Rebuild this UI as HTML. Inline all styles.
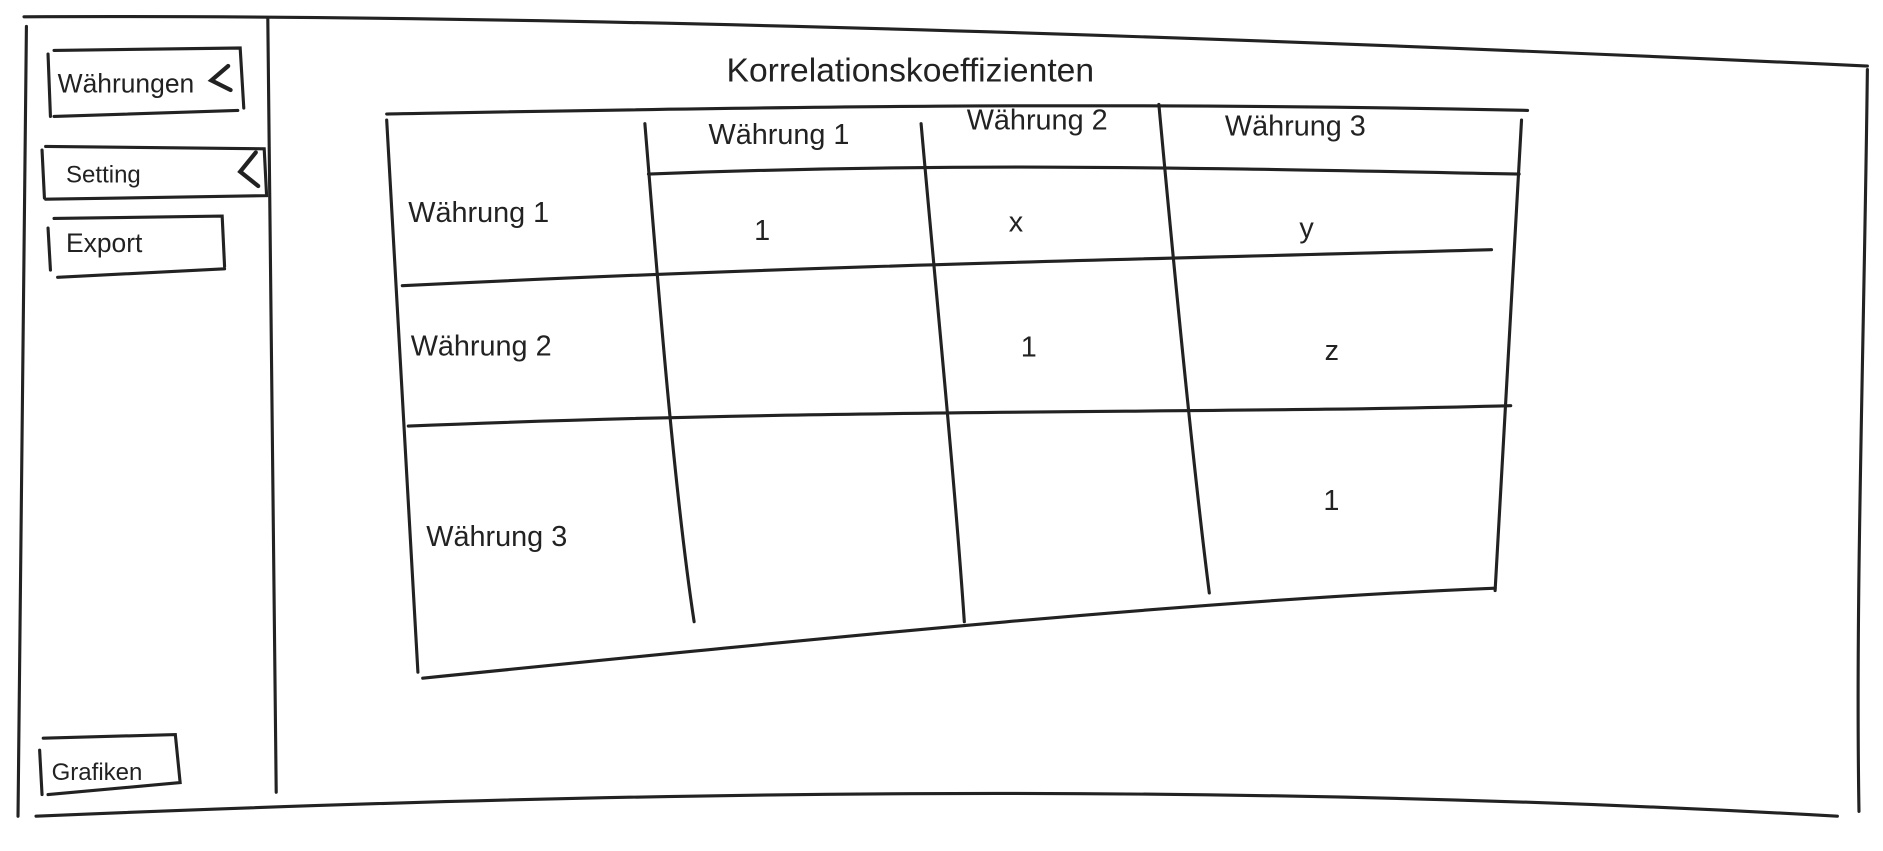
<!DOCTYPE html>
<html><head><meta charset="utf-8"><style>
html,body{margin:0;padding:0;background:#fff;width:1883px;height:851px;overflow:hidden}
svg{display:block}
text{font-family:"Liberation Sans",sans-serif;fill:#222}
</style></head><body>
<svg width="1883" height="851" viewBox="0 0 1568 709" preserveAspectRatio="none">
<g stroke="#222" stroke-width="2.6" fill="none" stroke-linecap="round">
<!-- outer frame -->
<path d="M20,14 C400,12 900,25 1555,55"/>
<path d="M22,22 L15,680"/>
<path d="M30,680 C500,660 1000,650 1530,680"/>
<path d="M1555,58 C1552,300 1545,500 1548,676"/>
<path d="M223,15 L230,660"/>
<!-- buttons -->
<path d="M40,45 L42,97 M45,42 L200,40 L203,90 M45,97 L198,92"/>
<path d="M35,125 L37,165 M38,122 L220,124 L222,163 L38,166"/>
<path d="M40,190 L42,225 M45,182 L185,180 L187,222 M48,231 L187,224"/>
<path d="M33,625 L35,662 M36,615 L146,612 L150,652 L40,662"/>
<path d="M190,55 L176,67 L192,75 M213,127 L200,143 L215,155" stroke-width="3.5"/>
<!-- table -->
<path d="M322,95 C600,90 900,84 1272,92"/>
<path d="M322,100 L348,560"/>
<path d="M352,565 C700,530 1000,500 1245,490"/>
<path d="M1267,100 L1245,492"/>
<path d="M537,103 C545,200 560,400 578,518"/>
<path d="M767,103 C780,250 795,400 803,518"/>
<path d="M965,87 C980,250 995,400 1007,494"/>
<path d="M540,145 C800,135 1000,140 1265,145"/>
<path d="M335,238 C700,220 1000,215 1242,208"/>
<path d="M340,355 C700,340 1000,345 1258,338"/>
</g>
<g font-size="24">
<text x="48" y="77" font-size="22">Währungen</text>
<text x="55" y="152" font-size="20">Setting</text>
<text x="55" y="210" font-size="22">Export</text>
<text x="43" y="650" font-size="20">Grafiken</text>
<text x="605" y="68" font-size="28">Korrelationskoeffizienten</text>
<text x="590" y="120">Währung 1</text>
<text x="805" y="108">Währung 2</text>
<text x="1020" y="113">Währung 3</text>
<text x="340" y="185">Währung 1</text>
<text x="342" y="296">Währung 2</text>
<text x="355" y="455">Währung 3</text>
<text x="628" y="200">1</text>
<text x="840" y="193">x</text>
<text x="1082" y="198">y</text>
<text x="850" y="297">1</text>
<text x="1103" y="300">z</text>
<text x="1102" y="425">1</text>
</g>
</svg>
</body></html>
